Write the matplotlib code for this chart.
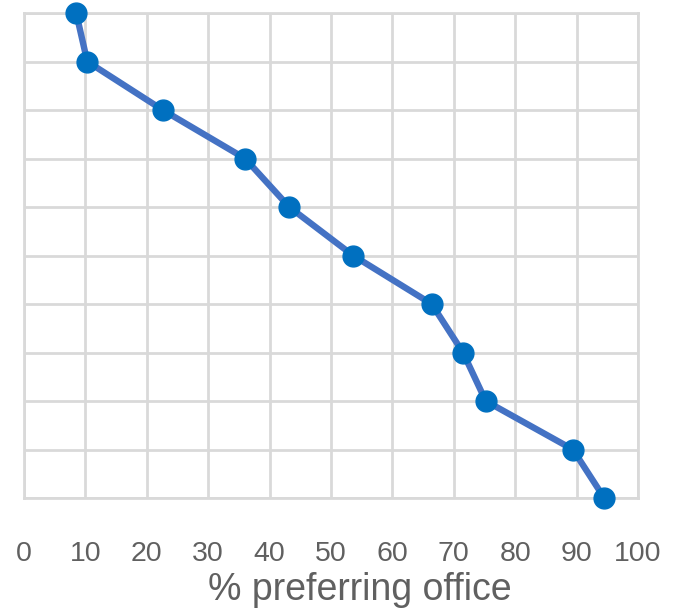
import matplotlib
matplotlib.use("Agg")
import matplotlib.pyplot as plt

# % preferring office, one point per rank (top = 10, bottom = 0)
pct_office = [8.5, 10.3, 22.6, 36.0, 43.2, 53.6, 66.4, 71.5, 75.2, 89.4, 94.5]
rank = [10, 9, 8, 7, 6, 5, 4, 3, 2, 1, 0]
x_ticks = [0, 10, 20, 30, 40, 50, 60, 70, 80, 90, 100]

plt.rcParams['font.family'] = ['Liberation Sans', 'DejaVu Sans']

fig = plt.figure(figsize=(6.73, 6.16), dpi=100)
ax = fig.add_axes([24 / 673, 1 - 498 / 616, (638 - 24) / 673, (498 - 13) / 616])

grid_col = '#d9d9d9'
ax.plot(pct_office, rank, color='#4472c4', linewidth=4.6, marker='o',
        markersize=15, markerfacecolor='#0070c0', markeredgecolor='#0070c0',
        zorder=3, clip_on=False)

ax.set_xlim(0, 100)
ax.set_ylim(0, 10)
ax.set_xticks(x_ticks)
ax.set_yticks(range(0, 11))
ax.set_yticklabels([])
ax.grid(True, color=grid_col, linewidth=2)
ax.set_axisbelow(True)
for s in ax.spines.values():
    s.set_color(grid_col)
    s.set_linewidth(2)
ax.tick_params(length=0, labelsize=20.5, labelcolor='#606060', pad=31)
ax.set_xlabel('% preferring office', fontsize=27, color='#606060')
ax.xaxis.set_label_coords(0.547, -0.152)

fig.savefig('out.png', dpi=100)
